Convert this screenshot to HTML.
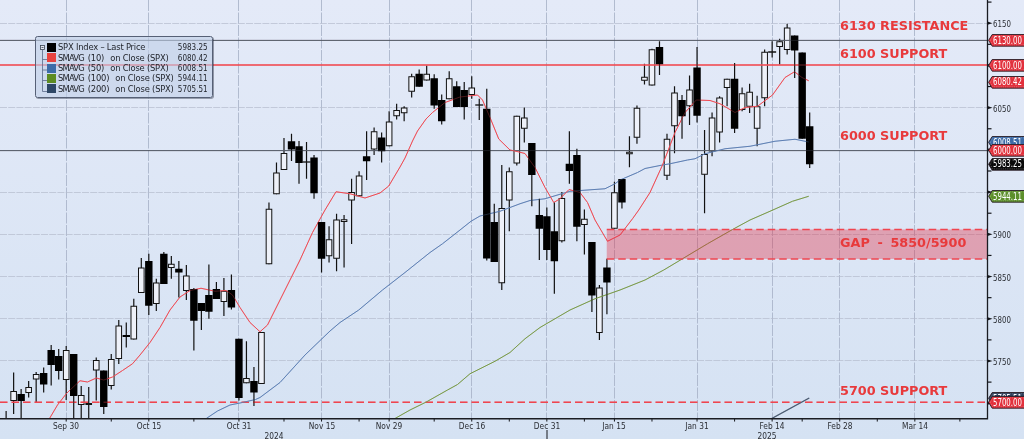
<!DOCTYPE html>
<html><head><meta charset="utf-8"><title>SPX Index chart</title><style>
html,body{margin:0;padding:0;background:#d5e2f3;}
#c{position:relative;width:1024px;height:439px;overflow:hidden;font-family:"DejaVu Sans Condensed","Liberation Sans",sans-serif;}
.yl{position:absolute;left:993px;font-size:9px;line-height:12px;color:#2a2d33;transform:scaleX(0.87);transform-origin:0 50%}
.xl{position:absolute;top:420px;width:60px;text-align:center;font-size:9px;line-height:12px;color:#2a2d33;transform:scaleX(0.92);transform-origin:50% 50%}
.tag{position:absolute;left:988px;width:38px;height:14px}
.tag svg{position:absolute;left:0;top:0}
.tag span{position:absolute;left:4.8px;top:0.7px;font-size:9.6px;line-height:12.7px;color:#fff;white-space:nowrap;transform:scaleX(0.81);transform-origin:0 50%}
.an{position:absolute;left:840px;font-family:"DejaVu Sans","Liberation Sans",sans-serif;font-weight:bold;font-size:12.8px;line-height:15px;color:#e83a3c;white-space:nowrap}
.lg{position:absolute;left:35px;top:36px;width:176px;height:60px;border:1px solid #566076;border-radius:2.5px;box-shadow:0.8px 0.8px 0 rgba(40,48,66,0.55);background:rgba(192,206,230,0.62);}
.lg .tree{position:absolute;left:4px;top:2px}
.lr{position:absolute;left:0;width:100%;height:10.4px}
.lr i{position:absolute;left:11px;top:0.5px;width:9px;height:9px;display:block}
.lr .ln{position:absolute;left:22px;top:-1px;font-size:9.3px;line-height:12px;color:#1d2027;white-space:nowrap;letter-spacing:-0.2px}
.lr .sm{font-weight:normal;letter-spacing:-0.8px;margin-right:1.4px}
.lr .on{font-weight:normal;margin-left:3.7px}
.lr .lv{position:absolute;right:4.5px;top:-1px;font-size:9.3px;line-height:12px;color:#1d2027;transform:scaleX(0.86);transform-origin:100% 50%}
.lr:nth-of-type(1){top:5.2px}
.lr:nth-of-type(2){top:15.6px}
.lr:nth-of-type(3){top:26.0px}
.lr:nth-of-type(4){top:36.4px}
.lr:nth-of-type(5){top:46.8px}
</style></head><body><div id="c">
<svg width="1024" height="439" viewBox="0 0 1024 439" style="position:absolute;left:0;top:0">
<defs><linearGradient id="bg" x1="0" y1="0" x2="0" y2="1"><stop offset="0" stop-color="#e4eaf8"/><stop offset="1" stop-color="#d5e2f3"/></linearGradient><clipPath id="plot"><rect x="0" y="0" width="987.50" height="418.75"/></clipPath></defs>
<rect x="0" y="0" width="1024" height="439" fill="url(#bg)"/>
<path d="M66.50 0V418.75M148.50 0V418.75M238.50 0V418.75M321.50 0V418.75M389.50 0V418.75M471.50 0V418.75M546.50 0V418.75M614.50 0V418.75M697.50 0V418.75M772.50 0V418.75M839.50 0V418.75M914.50 0V418.75" stroke="#a8b2c8" stroke-width="0.85" stroke-dasharray="11 1.5" fill="none"/>
<path d="M0 360.50H987.50M0 318.50H987.50M0 276.50H987.50M0 234.50H987.50M0 192.50H987.50M0 107.50H987.50M0 23.50H987.50" stroke="#b4bccd" stroke-width="0.7" stroke-dasharray="7 1.2" fill="none"/>
<g clip-path="url(#plot)">
<path d="M13.63 372.50V414.00" stroke="#111" stroke-width="1.2"/><rect x="10.83" y="391.50" width="5.60" height="9.00" fill="#eef1f9" stroke="#111" stroke-width="1"/>
<path d="M28.65 381.00V397.50" stroke="#111" stroke-width="1.2"/><rect x="25.85" y="387.50" width="5.60" height="5.00" fill="#eef1f9" stroke="#111" stroke-width="1"/>
<path d="M36.16 372.00V402.00" stroke="#111" stroke-width="1.2"/><rect x="33.36" y="374.50" width="5.60" height="4.50" fill="#eef1f9" stroke="#111" stroke-width="1"/>
<path d="M66.20 346.00V400.00" stroke="#111" stroke-width="1.2"/><rect x="63.40" y="350.50" width="5.60" height="29.00" fill="#eef1f9" stroke="#111" stroke-width="1"/>
<path d="M81.22 386.00V419.00" stroke="#111" stroke-width="1.2"/><rect x="78.42" y="395.50" width="5.60" height="9.00" fill="#eef1f9" stroke="#111" stroke-width="1"/>
<path d="M88.73 387.00V419.00" stroke="#111" stroke-width="1.2"/><rect x="85.93" y="403.50" width="5.60" height="1.00" fill="#eef1f9" stroke="#111" stroke-width="1"/>
<path d="M96.24 357.50V400.50" stroke="#111" stroke-width="1.2"/><rect x="93.44" y="360.50" width="5.60" height="9.50" fill="#eef1f9" stroke="#111" stroke-width="1"/>
<path d="M111.26 354.00V389.50" stroke="#111" stroke-width="1.2"/><rect x="108.46" y="359.50" width="5.60" height="26.00" fill="#eef1f9" stroke="#111" stroke-width="1"/>
<path d="M118.77 320.00V364.00" stroke="#111" stroke-width="1.2"/><rect x="115.97" y="326.00" width="5.60" height="32.50" fill="#eef1f9" stroke="#111" stroke-width="1"/>
<path d="M133.79 298.75V339.50" stroke="#111" stroke-width="1.2"/><rect x="130.99" y="306.25" width="5.60" height="32.75" fill="#eef1f9" stroke="#111" stroke-width="1"/>
<path d="M141.30 258.00V293.00" stroke="#111" stroke-width="1.2"/><rect x="138.50" y="268.00" width="5.60" height="24.50" fill="#eef1f9" stroke="#111" stroke-width="1"/>
<path d="M156.32 278.75V311.00" stroke="#111" stroke-width="1.2"/><rect x="153.52" y="283.00" width="5.60" height="20.50" fill="#eef1f9" stroke="#111" stroke-width="1"/>
<path d="M171.34 256.00V278.75" stroke="#111" stroke-width="1.2"/><rect x="168.54" y="264.25" width="5.60" height="3.25" fill="#eef1f9" stroke="#111" stroke-width="1"/>
<path d="M186.36 265.00V300.00" stroke="#111" stroke-width="1.2"/><rect x="183.56" y="276.00" width="5.60" height="14.50" fill="#eef1f9" stroke="#111" stroke-width="1"/>
<path d="M223.91 278.00V316.00" stroke="#111" stroke-width="1.2"/><rect x="221.11" y="291.25" width="5.60" height="10.25" fill="#eef1f9" stroke="#111" stroke-width="1"/>
<path d="M246.44 341.25V383.25" stroke="#111" stroke-width="1.2"/><rect x="243.64" y="378.50" width="5.60" height="4.25" fill="#eef1f9" stroke="#111" stroke-width="1"/>
<path d="M261.46 332.00V384.00" stroke="#111" stroke-width="1.2"/><rect x="258.66" y="332.50" width="5.60" height="51.00" fill="#eef1f9" stroke="#111" stroke-width="1"/>
<path d="M268.97 202.50V264.25" stroke="#111" stroke-width="1.2"/><rect x="266.17" y="209.25" width="5.60" height="54.50" fill="#eef1f9" stroke="#111" stroke-width="1"/>
<path d="M276.48 162.50V194.25" stroke="#111" stroke-width="1.2"/><rect x="273.68" y="173.00" width="5.60" height="20.75" fill="#eef1f9" stroke="#111" stroke-width="1"/>
<path d="M283.99 138.00V170.00" stroke="#111" stroke-width="1.2"/><rect x="281.19" y="153.50" width="5.60" height="16.00" fill="#eef1f9" stroke="#111" stroke-width="1"/>
<path d="M306.52 142.00V178.75" stroke="#111" stroke-width="1.2"/><path d="M302.52 162.00H310.52" stroke="#111" stroke-width="1.3"/>
<path d="M329.05 226.25V262.50" stroke="#111" stroke-width="1.2"/><rect x="326.25" y="239.75" width="5.60" height="16.00" fill="#eef1f9" stroke="#111" stroke-width="1"/>
<path d="M336.56 213.75V271.25" stroke="#111" stroke-width="1.2"/><rect x="333.76" y="220.00" width="5.60" height="38.25" fill="#eef1f9" stroke="#111" stroke-width="1"/>
<path d="M344.07 215.00V267.50" stroke="#111" stroke-width="1.2"/><rect x="341.27" y="219.75" width="5.60" height="1.75" fill="#eef1f9" stroke="#111" stroke-width="1"/>
<path d="M351.58 178.75V244.00" stroke="#111" stroke-width="1.2"/><rect x="348.78" y="192.50" width="5.60" height="7.50" fill="#eef1f9" stroke="#111" stroke-width="1"/>
<path d="M359.09 171.25V196.25" stroke="#111" stroke-width="1.2"/><rect x="356.29" y="176.00" width="5.60" height="19.75" fill="#eef1f9" stroke="#111" stroke-width="1"/>
<path d="M374.11 127.50V155.00" stroke="#111" stroke-width="1.2"/><rect x="371.31" y="131.75" width="5.60" height="17.25" fill="#eef1f9" stroke="#111" stroke-width="1"/>
<path d="M389.13 111.25V146.25" stroke="#111" stroke-width="1.2"/><rect x="386.33" y="122.00" width="5.60" height="23.75" fill="#eef1f9" stroke="#111" stroke-width="1"/>
<path d="M396.64 103.75V119.50" stroke="#111" stroke-width="1.2"/><rect x="393.84" y="110.50" width="5.60" height="5.25" fill="#eef1f9" stroke="#111" stroke-width="1"/>
<path d="M404.15 106.25V121.25" stroke="#111" stroke-width="1.2"/><rect x="401.35" y="108.00" width="5.60" height="4.75" fill="#eef1f9" stroke="#111" stroke-width="1"/>
<path d="M411.66 73.75V97.50" stroke="#111" stroke-width="1.2"/><rect x="408.86" y="76.75" width="5.60" height="14.50" fill="#eef1f9" stroke="#111" stroke-width="1"/>
<path d="M426.68 65.50V80.50" stroke="#111" stroke-width="1.2"/><rect x="423.88" y="74.25" width="5.60" height="5.75" fill="#eef1f9" stroke="#111" stroke-width="1"/>
<path d="M449.21 71.25V99.25" stroke="#111" stroke-width="1.2"/><rect x="446.41" y="78.75" width="5.60" height="20.00" fill="#eef1f9" stroke="#111" stroke-width="1"/>
<path d="M471.74 76.25V98.75" stroke="#111" stroke-width="1.2"/><rect x="468.94" y="88.00" width="5.60" height="6.50" fill="#eef1f9" stroke="#111" stroke-width="1"/>
<path d="M479.25 98.75V120.00" stroke="#111" stroke-width="1.2"/><path d="M475.25 105.00H483.25" stroke="#111" stroke-width="1.3"/>
<path d="M501.78 165.00V290.00" stroke="#111" stroke-width="1.2"/><rect x="498.98" y="208.50" width="5.60" height="74.25" fill="#eef1f9" stroke="#111" stroke-width="1"/>
<path d="M509.29 167.50V231.25" stroke="#111" stroke-width="1.2"/><rect x="506.49" y="171.75" width="5.60" height="28.25" fill="#eef1f9" stroke="#111" stroke-width="1"/>
<path d="M516.80 115.75V165.50" stroke="#111" stroke-width="1.2"/><rect x="514.00" y="116.25" width="5.60" height="46.75" fill="#eef1f9" stroke="#111" stroke-width="1"/>
<path d="M524.31 107.50V142.50" stroke="#111" stroke-width="1.2"/><rect x="521.51" y="118.00" width="5.60" height="10.25" fill="#eef1f9" stroke="#111" stroke-width="1"/>
<path d="M561.86 192.00V242.50" stroke="#111" stroke-width="1.2"/><rect x="559.06" y="198.50" width="5.60" height="42.25" fill="#eef1f9" stroke="#111" stroke-width="1"/>
<path d="M584.39 209.50V254.50" stroke="#111" stroke-width="1.2"/><rect x="581.59" y="219.25" width="5.60" height="5.25" fill="#eef1f9" stroke="#111" stroke-width="1"/>
<path d="M599.41 285.00V340.00" stroke="#111" stroke-width="1.2"/><rect x="596.61" y="288.00" width="5.60" height="44.50" fill="#eef1f9" stroke="#111" stroke-width="1"/>
<path d="M614.43 181.75V228.75" stroke="#111" stroke-width="1.2"/><rect x="611.63" y="192.75" width="5.60" height="35.50" fill="#eef1f9" stroke="#111" stroke-width="1"/>
<path d="M629.45 136.25V167.25" stroke="#111" stroke-width="1.2"/><rect x="626.65" y="152.25" width="5.60" height="1.50" fill="#eef1f9" stroke="#111" stroke-width="1"/>
<path d="M636.96 105.50V143.75" stroke="#111" stroke-width="1.2"/><rect x="634.16" y="108.25" width="5.60" height="29.00" fill="#eef1f9" stroke="#111" stroke-width="1"/>
<path d="M644.47 63.75V84.50" stroke="#111" stroke-width="1.2"/><rect x="641.67" y="77.25" width="5.60" height="3.00" fill="#eef1f9" stroke="#111" stroke-width="1"/>
<path d="M651.98 48.75V85.50" stroke="#111" stroke-width="1.2"/><rect x="649.18" y="49.75" width="5.60" height="35.25" fill="#eef1f9" stroke="#111" stroke-width="1"/>
<path d="M667.00 133.75V180.00" stroke="#111" stroke-width="1.2"/><rect x="664.20" y="139.25" width="5.60" height="36.00" fill="#eef1f9" stroke="#111" stroke-width="1"/>
<path d="M674.51 86.25V153.25" stroke="#111" stroke-width="1.2"/><rect x="671.71" y="93.00" width="5.60" height="32.75" fill="#eef1f9" stroke="#111" stroke-width="1"/>
<path d="M689.53 75.50V125.00" stroke="#111" stroke-width="1.2"/><rect x="686.73" y="90.00" width="5.60" height="15.75" fill="#eef1f9" stroke="#111" stroke-width="1"/>
<path d="M704.55 130.00V213.25" stroke="#111" stroke-width="1.2"/><rect x="701.75" y="154.50" width="5.60" height="19.75" fill="#eef1f9" stroke="#111" stroke-width="1"/>
<path d="M712.06 112.50V156.25" stroke="#111" stroke-width="1.2"/><rect x="709.26" y="118.00" width="5.60" height="33.00" fill="#eef1f9" stroke="#111" stroke-width="1"/>
<path d="M719.57 96.25V142.50" stroke="#111" stroke-width="1.2"/><rect x="716.77" y="98.00" width="5.60" height="34.00" fill="#eef1f9" stroke="#111" stroke-width="1"/>
<path d="M727.08 78.75V106.25" stroke="#111" stroke-width="1.2"/><rect x="724.28" y="79.25" width="5.60" height="8.25" fill="#eef1f9" stroke="#111" stroke-width="1"/>
<path d="M742.10 87.50V111.25" stroke="#111" stroke-width="1.2"/><rect x="739.30" y="93.75" width="5.60" height="15.75" fill="#eef1f9" stroke="#111" stroke-width="1"/>
<path d="M749.61 83.75V113.00" stroke="#111" stroke-width="1.2"/><rect x="746.81" y="92.25" width="5.60" height="14.00" fill="#eef1f9" stroke="#111" stroke-width="1"/>
<path d="M757.12 95.75V146.25" stroke="#111" stroke-width="1.2"/><rect x="754.32" y="106.75" width="5.60" height="21.50" fill="#eef1f9" stroke="#111" stroke-width="1"/>
<path d="M764.63 49.50V106.25" stroke="#111" stroke-width="1.2"/><rect x="761.83" y="52.25" width="5.60" height="45.50" fill="#eef1f9" stroke="#111" stroke-width="1"/>
<path d="M772.14 41.25V57.50" stroke="#111" stroke-width="1.2"/><path d="M768.14 52.00H776.14" stroke="#111" stroke-width="1.3"/>
<path d="M779.65 38.75V64.50" stroke="#111" stroke-width="1.2"/><rect x="776.85" y="41.75" width="5.60" height="4.75" fill="#eef1f9" stroke="#111" stroke-width="1"/>
<path d="M787.16 23.75V54.50" stroke="#111" stroke-width="1.2"/><rect x="784.36" y="28.00" width="5.60" height="21.50" fill="#eef1f9" stroke="#111" stroke-width="1"/>
</g>
<g opacity="1"><path d="M0 40.4H987.50M0 150.6H987.50" stroke="#555b66" stroke-width="1" fill="none"/><path d="M0 65H987.50" stroke="#f04c54" stroke-width="1.6" fill="none"/><path d="M0 402.2H987.50" stroke="#f0454f" stroke-width="1.5" stroke-dasharray="7.5 4" fill="none"/></g>
<g opacity="1"><polyline points="771.75,418.50 809.25,398.00" fill="none" stroke="#4a5a70" stroke-width="1.2" stroke-linejoin="round" clip-path="url(#plot)"/><polyline points="395.00,418.50 410.00,410.00 426.25,402.00 447.50,390.00 457.50,384.50 470.00,373.75 480.00,368.75 495.00,361.25 510.00,352.50 525.00,338.75 540.00,327.50 555.00,318.75 570.00,310.00 595.00,298.75 620.00,290.00 645.00,280.00 663.75,270.00 682.50,258.75 707.50,243.75 732.50,229.50 750.00,220.00 770.00,211.25 792.50,201.25 808.75,196.25" fill="none" stroke="#7a9a48" stroke-width="1.0" stroke-linejoin="round" clip-path="url(#plot)"/><polyline points="206.25,418.50 217.50,411.00 230.00,405.00 240.00,403.00 255.50,399.50 260.00,397.50 280.00,382.50 305.00,355.00 330.00,331.00 340.00,322.50 358.75,310.00 382.50,290.00 405.00,272.50 430.00,252.50 442.50,243.75 460.00,230.00 471.00,221.25 480.00,216.00 500.00,211.25 520.00,203.75 530.00,200.50 545.00,198.75 570.00,191.25 605.00,188.75 615.00,183.75 620.00,180.00 637.50,172.50 645.00,168.50 662.50,165.00 670.00,163.75 687.50,160.00 695.00,158.75 705.00,153.75 725.00,148.75 750.00,146.25 775.00,141.25 795.00,139.25 808.75,142.00" fill="none" stroke="#5f80b4" stroke-width="1.0" stroke-linejoin="round" clip-path="url(#plot)"/><polyline points="49.50,418.50 57.50,405.00 66.25,393.75 70.00,390.00 80.00,380.75 87.50,382.00 96.25,378.00 103.75,380.00 112.50,377.00 122.50,370.50 132.50,363.75 140.00,355.00 150.00,342.50 160.00,327.50 170.00,310.00 180.00,297.00 190.00,290.50 201.00,288.25 215.00,291.25 226.00,290.50 232.50,295.00 240.00,307.50 250.00,322.50 260.00,331.75 267.50,325.00 277.50,305.00 290.00,280.00 300.00,260.00 312.50,232.50 325.00,210.00 336.00,191.75 350.00,193.75 365.00,198.00 380.00,193.00 388.75,186.00 400.00,167.00 405.00,158.00 412.50,141.00 417.50,131.00 426.00,119.00 432.50,112.50 445.00,102.50 460.00,97.00 477.50,95.00 482.50,100.00 490.00,117.50 498.75,139.00 510.00,150.00 516.00,151.25 525.00,153.50 531.00,162.00 535.00,167.50 545.00,187.50 553.75,202.50 560.00,198.75 569.00,189.50 580.00,192.50 587.50,202.50 595.00,220.00 607.50,241.25 620.00,235.00 632.50,218.75 638.75,210.00 650.00,192.50 662.50,165.00 675.00,132.50 685.00,112.50 696.25,100.00 710.00,100.50 720.00,103.75 735.00,112.50 745.00,107.50 757.50,106.25 772.50,95.00 785.00,77.50 794.50,71.75 802.00,77.50 808.75,80.75" fill="none" stroke="#ef4c54" stroke-width="1.0" stroke-linejoin="round" clip-path="url(#plot)"/></g>
<g clip-path="url(#plot)">
<path d="M6.12 411.00V419.00" stroke="#111" stroke-width="1.2"/><rect x="2.42" y="419.00" width="7.40" height="1.20" fill="#000"/>
<path d="M21.14 389.00V419.00" stroke="#111" stroke-width="1.2"/><rect x="17.44" y="394.00" width="7.40" height="7.00" fill="#000"/>
<path d="M43.67 367.50V392.50" stroke="#111" stroke-width="1.2"/><rect x="39.97" y="373.00" width="7.40" height="11.50" fill="#000"/>
<path d="M51.18 345.00V385.50" stroke="#111" stroke-width="1.2"/><rect x="47.48" y="350.00" width="7.40" height="15.00" fill="#000"/>
<path d="M58.69 349.00V379.50" stroke="#111" stroke-width="1.2"/><rect x="54.99" y="356.00" width="7.40" height="15.00" fill="#000"/>
<path d="M73.71 354.00V419.00" stroke="#111" stroke-width="1.2"/><rect x="70.01" y="354.00" width="7.40" height="42.00" fill="#000"/>
<path d="M103.75 370.50V414.00" stroke="#111" stroke-width="1.2"/><rect x="100.05" y="370.50" width="7.40" height="36.50" fill="#000"/>
<path d="M126.28 322.50V347.50" stroke="#111" stroke-width="1.2"/><rect x="122.58" y="335.00" width="7.40" height="2.00" fill="#000"/>
<path d="M148.81 253.75V315.00" stroke="#111" stroke-width="1.2"/><rect x="145.11" y="261.00" width="7.40" height="44.75" fill="#000"/>
<path d="M163.83 252.00V284.00" stroke="#111" stroke-width="1.2"/><rect x="160.13" y="253.75" width="7.40" height="30.25" fill="#000"/>
<path d="M178.85 261.00V297.50" stroke="#111" stroke-width="1.2"/><rect x="175.15" y="268.75" width="7.40" height="3.75" fill="#000"/>
<path d="M193.87 288.00V350.50" stroke="#111" stroke-width="1.2"/><rect x="190.17" y="289.00" width="7.40" height="31.75" fill="#000"/>
<path d="M201.38 303.00V330.00" stroke="#111" stroke-width="1.2"/><rect x="197.68" y="303.00" width="7.40" height="8.00" fill="#000"/>
<path d="M208.89 264.50V318.75" stroke="#111" stroke-width="1.2"/><rect x="205.19" y="295.00" width="7.40" height="16.75" fill="#000"/>
<path d="M216.40 282.00V299.00" stroke="#111" stroke-width="1.2"/><rect x="212.70" y="289.00" width="7.40" height="10.00" fill="#000"/>
<path d="M231.42 274.50V309.50" stroke="#111" stroke-width="1.2"/><rect x="227.72" y="290.00" width="7.40" height="17.50" fill="#000"/>
<path d="M238.93 338.75V400.50" stroke="#111" stroke-width="1.2"/><rect x="235.23" y="338.75" width="7.40" height="59.25" fill="#000"/>
<path d="M253.95 367.00V406.00" stroke="#111" stroke-width="1.2"/><rect x="250.25" y="381.00" width="7.40" height="11.50" fill="#000"/>
<path d="M291.50 133.75V161.00" stroke="#111" stroke-width="1.2"/><rect x="287.80" y="141.25" width="7.40" height="8.25" fill="#000"/>
<path d="M299.01 141.00V183.75" stroke="#111" stroke-width="1.2"/><rect x="295.31" y="146.25" width="7.40" height="16.75" fill="#000"/>
<path d="M314.03 155.00V198.75" stroke="#111" stroke-width="1.2"/><rect x="310.33" y="157.50" width="7.40" height="35.75" fill="#000"/>
<path d="M321.54 222.00V272.50" stroke="#111" stroke-width="1.2"/><rect x="317.84" y="222.00" width="7.40" height="36.75" fill="#000"/>
<path d="M366.60 131.25V180.00" stroke="#111" stroke-width="1.2"/><rect x="362.90" y="156.25" width="7.40" height="5.00" fill="#000"/>
<path d="M381.62 132.50V162.50" stroke="#111" stroke-width="1.2"/><rect x="377.92" y="137.50" width="7.40" height="13.75" fill="#000"/>
<path d="M419.17 69.50V86.75" stroke="#111" stroke-width="1.2"/><rect x="415.47" y="73.75" width="7.40" height="13.00" fill="#000"/>
<path d="M434.19 74.25V108.75" stroke="#111" stroke-width="1.2"/><rect x="430.49" y="78.25" width="7.40" height="27.25" fill="#000"/>
<path d="M441.70 94.50V124.50" stroke="#111" stroke-width="1.2"/><rect x="438.00" y="100.00" width="7.40" height="21.25" fill="#000"/>
<path d="M456.72 81.25V107.00" stroke="#111" stroke-width="1.2"/><rect x="453.02" y="86.25" width="7.40" height="20.75" fill="#000"/>
<path d="M464.23 82.00V119.50" stroke="#111" stroke-width="1.2"/><rect x="460.53" y="90.00" width="7.40" height="17.00" fill="#000"/>
<path d="M486.76 88.75V260.50" stroke="#111" stroke-width="1.2"/><rect x="483.06" y="108.75" width="7.40" height="149.75" fill="#000"/>
<path d="M494.27 203.75V262.00" stroke="#111" stroke-width="1.2"/><rect x="490.57" y="222.00" width="7.40" height="40.00" fill="#000"/>
<path d="M531.82 143.00V206.25" stroke="#111" stroke-width="1.2"/><rect x="528.12" y="143.00" width="7.40" height="32.00" fill="#000"/>
<path d="M539.33 198.75V260.00" stroke="#111" stroke-width="1.2"/><rect x="535.63" y="215.00" width="7.40" height="13.75" fill="#000"/>
<path d="M546.84 207.50V260.00" stroke="#111" stroke-width="1.2"/><rect x="543.14" y="216.25" width="7.40" height="33.75" fill="#000"/>
<path d="M554.35 202.50V293.75" stroke="#111" stroke-width="1.2"/><rect x="550.65" y="231.25" width="7.40" height="30.00" fill="#000"/>
<path d="M569.37 131.25V183.75" stroke="#111" stroke-width="1.2"/><rect x="565.67" y="163.75" width="7.40" height="7.25" fill="#000"/>
<path d="M576.88 148.75V241.25" stroke="#111" stroke-width="1.2"/><rect x="573.18" y="155.00" width="7.40" height="71.75" fill="#000"/>
<path d="M591.90 242.00V312.00" stroke="#111" stroke-width="1.2"/><rect x="588.20" y="242.00" width="7.40" height="53.50" fill="#000"/>
<path d="M606.92 258.75V314.25" stroke="#111" stroke-width="1.2"/><rect x="603.22" y="267.50" width="7.40" height="15.00" fill="#000"/>
<path d="M621.94 179.00V208.50" stroke="#111" stroke-width="1.2"/><rect x="618.24" y="179.00" width="7.40" height="23.50" fill="#000"/>
<path d="M659.49 41.25V75.00" stroke="#111" stroke-width="1.2"/><rect x="655.79" y="47.00" width="7.40" height="17.25" fill="#000"/>
<path d="M682.02 95.00V138.75" stroke="#111" stroke-width="1.2"/><rect x="678.32" y="100.00" width="7.40" height="16.25" fill="#000"/>
<path d="M697.04 47.00V122.50" stroke="#111" stroke-width="1.2"/><rect x="693.34" y="67.50" width="7.40" height="48.25" fill="#000"/>
<path d="M734.59 63.00V133.00" stroke="#111" stroke-width="1.2"/><rect x="730.89" y="78.75" width="7.40" height="50.00" fill="#000"/>
<path d="M794.67 35.50V78.00" stroke="#111" stroke-width="1.2"/><rect x="790.97" y="35.50" width="7.40" height="15.00" fill="#000"/>
<path d="M802.18 52.50V138.75" stroke="#111" stroke-width="1.2"/><rect x="798.48" y="52.50" width="7.40" height="86.25" fill="#000"/>
<path d="M809.69 112.50V168.00" stroke="#111" stroke-width="1.2"/><rect x="805.99" y="126.25" width="7.40" height="38.00" fill="#000"/>
</g>
<g opacity="0.3"><path d="M0 40.4H987.50M0 150.6H987.50" stroke="#555b66" stroke-width="1" fill="none"/><path d="M0 65H987.50" stroke="#f04c54" stroke-width="1.6" fill="none"/><path d="M0 402.2H987.50" stroke="#f0454f" stroke-width="1.5" stroke-dasharray="7.5 4" fill="none"/></g>
<g opacity="0.3"><polyline points="771.75,418.50 809.25,398.00" fill="none" stroke="#4a5a70" stroke-width="1.2" stroke-linejoin="round" clip-path="url(#plot)"/><polyline points="395.00,418.50 410.00,410.00 426.25,402.00 447.50,390.00 457.50,384.50 470.00,373.75 480.00,368.75 495.00,361.25 510.00,352.50 525.00,338.75 540.00,327.50 555.00,318.75 570.00,310.00 595.00,298.75 620.00,290.00 645.00,280.00 663.75,270.00 682.50,258.75 707.50,243.75 732.50,229.50 750.00,220.00 770.00,211.25 792.50,201.25 808.75,196.25" fill="none" stroke="#7a9a48" stroke-width="1.0" stroke-linejoin="round" clip-path="url(#plot)"/><polyline points="206.25,418.50 217.50,411.00 230.00,405.00 240.00,403.00 255.50,399.50 260.00,397.50 280.00,382.50 305.00,355.00 330.00,331.00 340.00,322.50 358.75,310.00 382.50,290.00 405.00,272.50 430.00,252.50 442.50,243.75 460.00,230.00 471.00,221.25 480.00,216.00 500.00,211.25 520.00,203.75 530.00,200.50 545.00,198.75 570.00,191.25 605.00,188.75 615.00,183.75 620.00,180.00 637.50,172.50 645.00,168.50 662.50,165.00 670.00,163.75 687.50,160.00 695.00,158.75 705.00,153.75 725.00,148.75 750.00,146.25 775.00,141.25 795.00,139.25 808.75,142.00" fill="none" stroke="#5f80b4" stroke-width="1.0" stroke-linejoin="round" clip-path="url(#plot)"/><polyline points="49.50,418.50 57.50,405.00 66.25,393.75 70.00,390.00 80.00,380.75 87.50,382.00 96.25,378.00 103.75,380.00 112.50,377.00 122.50,370.50 132.50,363.75 140.00,355.00 150.00,342.50 160.00,327.50 170.00,310.00 180.00,297.00 190.00,290.50 201.00,288.25 215.00,291.25 226.00,290.50 232.50,295.00 240.00,307.50 250.00,322.50 260.00,331.75 267.50,325.00 277.50,305.00 290.00,280.00 300.00,260.00 312.50,232.50 325.00,210.00 336.00,191.75 350.00,193.75 365.00,198.00 380.00,193.00 388.75,186.00 400.00,167.00 405.00,158.00 412.50,141.00 417.50,131.00 426.00,119.00 432.50,112.50 445.00,102.50 460.00,97.00 477.50,95.00 482.50,100.00 490.00,117.50 498.75,139.00 510.00,150.00 516.00,151.25 525.00,153.50 531.00,162.00 535.00,167.50 545.00,187.50 553.75,202.50 560.00,198.75 569.00,189.50 580.00,192.50 587.50,202.50 595.00,220.00 607.50,241.25 620.00,235.00 632.50,218.75 638.75,210.00 650.00,192.50 662.50,165.00 675.00,132.50 685.00,112.50 696.25,100.00 710.00,100.50 720.00,103.75 735.00,112.50 745.00,107.50 757.50,106.25 772.50,95.00 785.00,77.50 794.50,71.75 802.00,77.50 808.75,80.75" fill="none" stroke="#ef4c54" stroke-width="1.0" stroke-linejoin="round" clip-path="url(#plot)"/></g>
<rect x="606.75" y="229.5" width="380.75" height="29.4" fill="#e4283e" fill-opacity="0.36"/>
<path d="M606.75 229.6H987.50M606.75 258.9H987.50" stroke="#f0454f" stroke-width="1.5" stroke-dasharray="7.5 4" fill="none"/>
<path d="M987.50 0V419.40M0 418.75H988.15" stroke="#1a1c22" stroke-width="1.3" fill="none"/>
<path d="M987.50 401.62L992.50 403.23L987.50 404.83Z" fill="#15171c"/><path d="M987.50 359.40L992.50 361.00L987.50 362.60Z" fill="#15171c"/><path d="M987.50 317.17L992.50 318.77L987.50 320.38Z" fill="#15171c"/><path d="M987.50 274.95L992.50 276.55L987.50 278.15Z" fill="#15171c"/><path d="M987.50 232.72L992.50 234.32L987.50 235.92Z" fill="#15171c"/><path d="M987.50 190.50L992.50 192.10L987.50 193.70Z" fill="#15171c"/><path d="M987.50 148.28L992.50 149.88L987.50 151.47Z" fill="#15171c"/><path d="M987.50 106.05L992.50 107.65L987.50 109.25Z" fill="#15171c"/><path d="M987.50 63.82L992.50 65.42L987.50 67.02Z" fill="#15171c"/><path d="M987.50 21.60L992.50 23.20L987.50 24.80Z" fill="#15171c"/><path d="M987.50 382.11H991.50" stroke="#15171c" stroke-width="1.2"/><path d="M987.50 339.89H991.50" stroke="#15171c" stroke-width="1.2"/><path d="M987.50 297.66H991.50" stroke="#15171c" stroke-width="1.2"/><path d="M987.50 255.44H991.50" stroke="#15171c" stroke-width="1.2"/><path d="M987.50 213.21H991.50" stroke="#15171c" stroke-width="1.2"/><path d="M987.50 170.99H991.50" stroke="#15171c" stroke-width="1.2"/><path d="M987.50 128.76H991.50" stroke="#15171c" stroke-width="1.2"/><path d="M987.50 86.54H991.50" stroke="#15171c" stroke-width="1.2"/><path d="M987.50 44.31H991.50" stroke="#15171c" stroke-width="1.2"/><path d="M987.50 2.09H991.50" stroke="#15171c" stroke-width="1.2"/>
<path d="M66.20 418.75V421.55M148.81 418.75V421.55M238.93 418.75V421.55M321.54 418.75V421.55M389.13 418.75V421.55M471.74 418.75V421.55M546.84 418.75V421.55M614.43 418.75V421.55M697.04 418.75V421.55M772.14 418.75V421.55M839.73 418.75V421.55M914.83 418.75V421.55M111.26 418.75V421.55M193.87 418.75V421.55M283.99 418.75V421.55M359.09 418.75V421.55M434.19 418.75V421.55M509.29 418.75V421.55M584.39 418.75V421.55M651.98 418.75V421.55M734.59 418.75V421.55M802.18 418.75V421.55M877.28 418.75V421.55M959.89 418.75V421.55" stroke="#15171c" stroke-width="1" fill="none"/>
<path d="M547 430V439" stroke="#15171c" stroke-width="1"/>
</svg>
<div class="yl" style="top:18.2px">6150</div>
<div class="yl" style="top:102.7px">6050</div>
<div class="yl" style="top:229.3px">5900</div>
<div class="yl" style="top:271.6px">5850</div>
<div class="yl" style="top:313.8px">5800</div>
<div class="yl" style="top:356.0px">5750</div>
<div class="xl" style="left:36.2px">Sep 30</div>
<div class="xl" style="left:118.8px">Oct 15</div>
<div class="xl" style="left:208.9px">Oct 31</div>
<div class="xl" style="left:291.5px">Nov 15</div>
<div class="xl" style="left:359.1px">Nov 29</div>
<div class="xl" style="left:441.7px">Dec 16</div>
<div class="xl" style="left:516.8px">Dec 31</div>
<div class="xl" style="left:584.4px">Jan 15</div>
<div class="xl" style="left:667.0px">Jan 31</div>
<div class="xl" style="left:742.1px">Feb 14</div>
<div class="xl" style="left:809.7px">Feb 28</div>
<div class="xl" style="left:884.8px">Mar 14</div>
<div class="xl" style="left:243.6px;top:430px">2024</div>
<div class="xl" style="left:736.7px;top:430px">2025</div>
<div class="tag" style="top:392.25px;"><svg width="38" height="14" viewBox="0 0 38 14"><path d="M0.6 6.35L4.2 0.5H38V12.2H4.2Z" fill="#2c3e5a" stroke="#2a1e26" stroke-width="0.9"/><path d="M2.3 6.35L4.9 1.9H38M38 10.8H4.9L2.3 6.35" fill="none" stroke="#fff" stroke-opacity="0.33" stroke-width="0.7" stroke-dasharray="1.2 1"/></svg><span>5705.51</span></div>
<div class="tag" style="top:396.15px;"><svg width="38" height="14" viewBox="0 0 38 14"><path d="M0.6 6.35L4.2 0.5H38V12.2H4.2Z" fill="#e2303c" stroke="#2a1e26" stroke-width="0.9"/><path d="M2.3 6.35L4.9 1.9H38M38 10.8H4.9L2.3 6.35" fill="none" stroke="#fff" stroke-opacity="0.33" stroke-width="0.7" stroke-dasharray="1.2 1"/></svg><span>5700.00</span></div>
<div class="tag" style="top:33.85px;"><svg width="38" height="14" viewBox="0 0 38 14"><path d="M0.6 6.35L4.2 0.5H38V12.2H4.2Z" fill="#e2303c" stroke="#2a1e26" stroke-width="0.9"/><path d="M2.3 6.35L4.9 1.9H38M38 10.8H4.9L2.3 6.35" fill="none" stroke="#fff" stroke-opacity="0.33" stroke-width="0.7" stroke-dasharray="1.2 1"/></svg><span>6130.00</span></div>
<div class="tag" style="top:59.25px;"><svg width="38" height="14" viewBox="0 0 38 14"><path d="M0.6 6.35L4.2 0.5H38V12.2H4.2Z" fill="#e2303c" stroke="#2a1e26" stroke-width="0.9"/><path d="M2.3 6.35L4.9 1.9H38M38 10.8H4.9L2.3 6.35" fill="none" stroke="#fff" stroke-opacity="0.33" stroke-width="0.7" stroke-dasharray="1.2 1"/></svg><span>6100.00</span></div>
<div class="tag" style="top:75.65px;"><svg width="38" height="14" viewBox="0 0 38 14"><path d="M0.6 6.35L4.2 0.5H38V12.2H4.2Z" fill="#e2303c" stroke="#2a1e26" stroke-width="0.9"/><path d="M2.3 6.35L4.9 1.9H38M38 10.8H4.9L2.3 6.35" fill="none" stroke="#fff" stroke-opacity="0.33" stroke-width="0.7" stroke-dasharray="1.2 1"/></svg><span>6080.42</span></div>
<div class="tag" style="top:136.15px;"><svg width="38" height="14" viewBox="0 0 38 14"><path d="M0.6 6.35L4.2 0.5H38V12.2H4.2Z" fill="#3c6aa6" stroke="#2a1e26" stroke-width="0.9"/><path d="M2.3 6.35L4.9 1.9H38M38 10.8H4.9L2.3 6.35" fill="none" stroke="#fff" stroke-opacity="0.33" stroke-width="0.7" stroke-dasharray="1.2 1"/></svg><span>6008.51</span></div>
<div class="tag" style="top:189.85px;"><svg width="38" height="14" viewBox="0 0 38 14"><path d="M0.6 6.35L4.2 0.5H38V12.2H4.2Z" fill="#5c8f2a" stroke="#2a1e26" stroke-width="0.9"/><path d="M2.3 6.35L4.9 1.9H38M38 10.8H4.9L2.3 6.35" fill="none" stroke="#fff" stroke-opacity="0.33" stroke-width="0.7" stroke-dasharray="1.2 1"/></svg><span>5944.11</span></div>
<div class="tag" style="top:157.55px;"><svg width="38" height="14" viewBox="0 0 38 14"><path d="M0.6 6.35L4.2 0.5H38V12.2H4.2Z" fill="#0a0a0a" stroke="#2a1e26" stroke-width="0.9"/><path d="M2.3 6.35L4.9 1.9H38M38 10.8H4.9L2.3 6.35" fill="none" stroke="#fff" stroke-opacity="0.33" stroke-width="0.7" stroke-dasharray="1.2 1"/></svg><span>5983.25</span></div>
<div class="tag" style="top:143.95px;"><svg width="38" height="14" viewBox="0 0 38 14"><path d="M0.6 6.35L4.2 0.5H38V12.2H4.2Z" fill="#e2303c" stroke="#2a1e26" stroke-width="0.9"/><path d="M2.3 6.35L4.9 1.9H38M38 10.8H4.9L2.3 6.35" fill="none" stroke="#fff" stroke-opacity="0.33" stroke-width="0.7" stroke-dasharray="1.2 1"/></svg><span>6000.00</span></div>
<div class="an" style="top:17.9px">6130 RESISTANCE</div>
<div class="an" style="top:45.5px">6100 SUPPORT</div>
<div class="an" style="top:127.5px">6000 SUPPORT</div>
<div class="an" style="top:235.3px"><span style="word-spacing:3.2px">GAP - 5850/5900</span></div>
<div class="an" style="top:382.5px">5700 SUPPORT</div>
<div class="lg"><svg class="tree" width="14" height="60" viewBox="0 0 14 60"><rect x="0.5" y="6.5" width="4" height="4" fill="#e8ecf6" stroke="#3a4250" stroke-width="0.8"/><path d="M1.5 8.5H3.5" stroke="#3a4250" stroke-width="0.8"/><path d="M2.5 11V52.5H7M2.5 20.5H7M2.5 31H7M2.5 41.5H7" stroke="#5a6a88" stroke-width="0.8" fill="none"/></svg><div class="lr"><i style="background:#000"></i><span class="ln">SPX Index – Last Price</span><span class="lv">5983.25</span></div><div class="lr"><i style="background:#e8433f"></i><span class="ln"><b class="sm">SMAVG</b> (10) <b class="on">on</b> Close (SPX)</span><span class="lv">6080.42</span></div><div class="lr"><i style="background:#3d6ca8"></i><span class="ln"><b class="sm">SMAVG</b> (50) <b class="on">on</b> Close (SPX)</span><span class="lv">6008.51</span></div><div class="lr"><i style="background:#5d8c22"></i><span class="ln"><b class="sm">SMAVG</b> (100) <b class="on">on</b> Close (SPX)</span><span class="lv">5944.11</span></div><div class="lr"><i style="background:#2e4766"></i><span class="ln"><b class="sm">SMAVG</b> (200) <b class="on">on</b> Close (SPX)</span><span class="lv">5705.51</span></div></div>
</div></body></html>
